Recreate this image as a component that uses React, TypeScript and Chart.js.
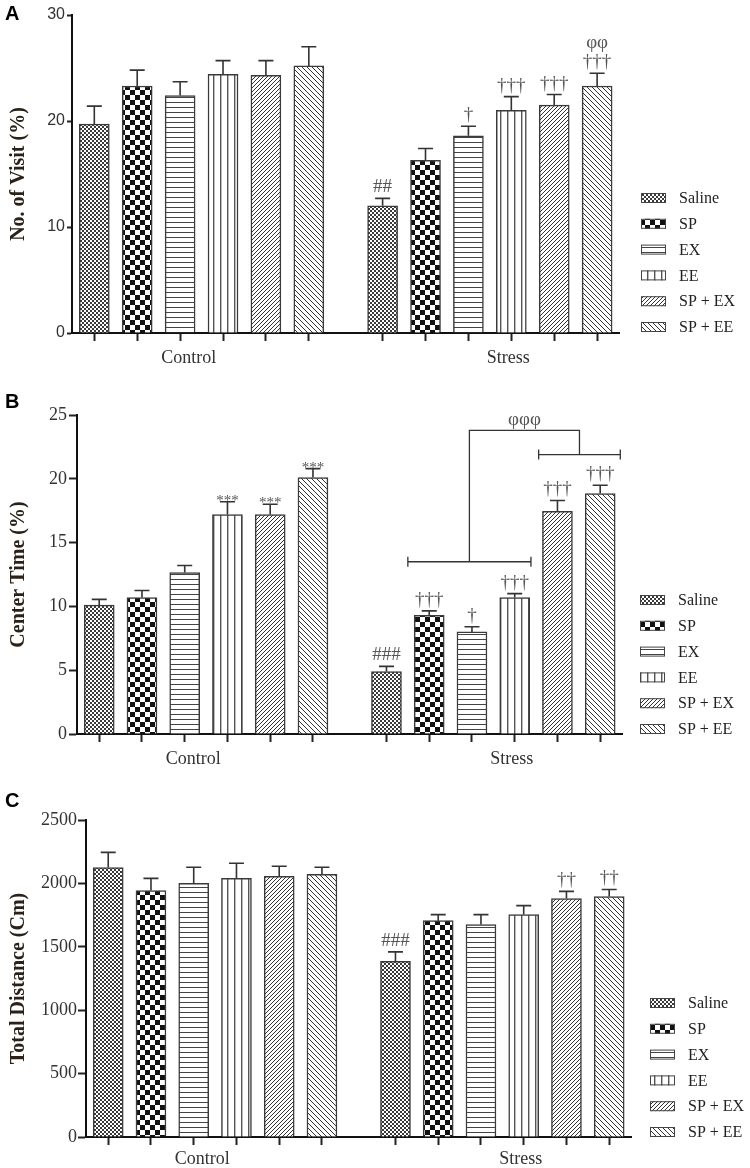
import React, { useEffect, useRef } from 'react';
import { Chart, registerables } from 'chart.js';
Chart.register(...registerables);

// ---------- data ----------
const treatments = ['Saline', 'SP', 'EX', 'EE', 'SP + EX', 'SP + EE'];
const groupLabels = ['Control', 'Stress'];
const groupLabelSlots = [2.2, 9.65];

const visitTicks = [0, 10, 20, 30];
const visitControl = [19.7, 23.3, 22.4, 24.4, 24.3, 25.2];
const visitControlErr = [1.7, 1.5, 1.3, 1.3, 1.4, 1.8];
const visitStress = [12.0, 16.3, 18.6, 21.0, 21.5, 23.3];
const visitStressErr = [0.7, 1.1, 0.9, 1.3, 1.0, 1.2];
const visitControlMarks = ['', '', '', '', '', ''];
const visitStressMarks = ['##', '', '†', '†††', '†††', '†††'];
const visitStressMarks2 = ['', '', '', '', '', 'φφ'];

const centerTicks = [0, 5, 10, 15, 20, 25];
const centerControl = [10.1, 10.7, 12.65, 17.2, 17.2, 20.1];
const centerControlErr = [0.45, 0.55, 0.55, 1.0, 0.8, 0.7];
const centerStress = [4.9, 9.3, 8.0, 10.7, 17.45, 18.85];
const centerStressErr = [0.4, 0.35, 0.4, 0.3, 0.85, 0.65];
const centerControlMarks = ['', '', '', '***', '***', '***'];
const centerStressMarks = ['###', '†††', '†', '†††', '†††', '†††'];
const centerBracketLow = [0.5, 3.38];
const centerBracketHigh = [3.56, 5.47];
const centerBracketLevels = [13.5, 21.9, 23.8];
const centerBracketMark = 'φφφ';

const distanceTicks = [0, 500, 1000, 1500, 2000, 2500];
const distanceControl = [2125, 1944, 2000, 2040, 2056, 2071];
const distanceControlErr = [120, 96, 127, 119, 79, 56];
const distanceStress = [1385, 1706, 1675, 1754, 1881, 1897];
const distanceStressErr = [75, 48, 79, 71, 56, 55];
const distanceControlMarks = ['', '', '', '', '', ''];
const distanceStressMarks = ['###', '', '', '', '††', '††'];

// ---------- layout ----------
const STRESS_OFFSET = 6.72;
const X_MIN = -0.52;
const X_MAX = 12.23;
const SERIF = "'Liberation Serif', 'Times New Roman', serif";
const SANS = "'Liberation Sans', Arial, sans-serif";

const patternKinds = ['fineCheck', 'check', 'hlines', 'vlines', 'diagUp', 'diagDown'];

function makePattern(target: CanvasRenderingContext2D, kind: string): CanvasPattern {
  const c = document.createElement('canvas');
  let w = 4, h = 4;
  if (kind === 'check') { w = 10; h = 10; }
  if (kind === 'hlines') { w = 5; h = 5; }
  if (kind === 'vlines') { w = 7; h = 7; }
  if (kind === 'diagUp') { w = 4; h = 4; }
  if (kind === 'diagDown') { w = 5; h = 5; }
  c.width = w; c.height = h;
  const g = c.getContext('2d')!;
  g.fillStyle = '#fff';
  g.fillRect(0, 0, w, h);
  if (kind === 'fineCheck') {
    g.fillStyle = '#3a3a3a';
    g.fillRect(0, 0, 2, 2); g.fillRect(2, 2, 2, 2);
  } else if (kind === 'check') {
    g.fillStyle = '#111';
    g.fillRect(0, 0, 5, 5); g.fillRect(5, 5, 5, 5);
  } else if (kind === 'hlines') {
    g.fillStyle = '#444';
    g.fillRect(0, 2, w, 1);
  } else if (kind === 'vlines') {
    g.fillStyle = '#555';
    g.fillRect(3, 0, 1.4, h);
  } else if (kind === 'diagUp') {
    g.strokeStyle = '#333'; g.lineWidth = 1;
    g.beginPath();
    g.moveTo(0, h); g.lineTo(w, 0);
    g.moveTo(-1, 1); g.lineTo(1, -1);
    g.moveTo(w - 1, h + 1); g.lineTo(w + 1, h - 1);
    g.stroke();
  } else if (kind === 'diagDown') {
    g.strokeStyle = '#333'; g.lineWidth = 1;
    g.beginPath();
    g.moveTo(0, 0); g.lineTo(w, h);
    g.moveTo(w - 1, -1); g.lineTo(w + 1, 1);
    g.moveTo(-1, h - 1); g.lineTo(1, h + 1);
    g.stroke();
  }
  return target.createPattern(c, 'repeat')!;
}

type Bracket = { low: number[]; high: number[]; levels: number[]; mark: string };

type PanelSpec = {
  top: number; height: number;
  letter: string; letterY: number;
  yTitle: string; yTicks: number[];
  tickFont: { family: string; size: number };
  yTickLength: number; yTickPadding: number;
  control: number[]; controlErr: number[];
  stress: number[]; stressErr: number[];
  controlMarks: string[]; stressMarks: string[]; stressMarks2?: string[];
  left: number; right: number; areaTop: number; xHeight: number; xLabelPadding: number;
  legendX: number; legendY: number;
  bracket?: Bracket;
};

function decorPlugin(p: PanelSpec, patterns: CanvasPattern[]) {
  return {
    id: 'decor' + p.letter,
    afterDatasetsDraw(chart: any) {
      const ctx: CanvasRenderingContext2D = chart.ctx;
      const ys = chart.scales.y;
      chart.data.datasets.forEach((_ds: any, d: number) => {
        const meta = chart.getDatasetMeta(d);
        meta.data.forEach((el: any, j: number) => {
          const val = j === 0 ? p.control[d] : p.stress[d];
          const err = j === 0 ? p.controlErr[d] : p.stressErr[d];
          const x = el.x;
          const yTop = el.y;
          const yCap = ys.getPixelForValue(val + err);
          ctx.save();
          ctx.strokeStyle = '#333';
          ctx.lineWidth = 1.6;
          ctx.beginPath();
          ctx.moveTo(x, yTop); ctx.lineTo(x, yCap);
          ctx.moveTo(x - 7.5, yCap); ctx.lineTo(x + 7.5, yCap);
          ctx.stroke();
          const marks = j === 0 ? p.controlMarks : p.stressMarks;
          const m = marks[d];
          ctx.fillStyle = '#555';
          ctx.textAlign = 'center';
          ctx.textBaseline = 'alphabetic';
          let base = yCap - 6;
          if (m) {
            if (m.includes('*')) {
              ctx.font = `15px ${SERIF}`;
              base = yCap + 3;
            } else {
              ctx.font = `19px ${SERIF}`;
            }
            ctx.fillText(m, x, base);
          }
          if (j === 1 && p.stressMarks2 && p.stressMarks2[d]) {
            ctx.font = `19px ${SERIF}`;
            ctx.fillText(p.stressMarks2[d], x, base - 19);
          }
          ctx.restore();
        });
      });
      if (p.bracket) {
        const b = p.bracket;
        const xs = chart.scales.x;
        const px = (s: number) => xs.getPixelForValue(STRESS_OFFSET + s);
        const yLow = ys.getPixelForValue(b.levels[0]);
        const yHigh = ys.getPixelForValue(b.levels[1]);
        const yTopL = ys.getPixelForValue(b.levels[2]);
        const lowMid = (px(b.low[0]) + px(b.low[1])) / 2;
        const highMid = (px(b.high[0]) + px(b.high[1])) / 2;
        ctx.save();
        ctx.strokeStyle = '#333';
        ctx.lineWidth = 1.3;
        ctx.beginPath();
        ctx.moveTo(px(b.low[0]), yLow); ctx.lineTo(px(b.low[1]), yLow);
        ctx.moveTo(px(b.low[0]), yLow - 5); ctx.lineTo(px(b.low[0]), yLow + 5);
        ctx.moveTo(px(b.low[1]), yLow - 5); ctx.lineTo(px(b.low[1]), yLow + 5);
        ctx.moveTo(px(b.high[0]), yHigh); ctx.lineTo(px(b.high[1]), yHigh);
        ctx.moveTo(px(b.high[0]), yHigh - 5); ctx.lineTo(px(b.high[0]), yHigh + 5);
        ctx.moveTo(px(b.high[1]), yHigh - 5); ctx.lineTo(px(b.high[1]), yHigh + 5);
        ctx.moveTo(lowMid, yLow); ctx.lineTo(lowMid, yTopL); ctx.lineTo(highMid, yTopL); ctx.lineTo(highMid, yHigh);
        ctx.stroke();
        ctx.fillStyle = '#555';
        ctx.font = `19px ${SERIF}`;
        ctx.textAlign = 'center';
        ctx.textBaseline = 'alphabetic';
        ctx.fillText(b.mark, (lowMid + highMid) / 2, yTopL - 5);
        ctx.restore();
      }
    },
    afterDraw(chart: any) {
      const ctx: CanvasRenderingContext2D = chart.ctx;
      ctx.save();
      // panel letter
      ctx.fillStyle = '#000';
      ctx.font = `bold 20px ${SANS}`;
      ctx.textAlign = 'left';
      ctx.textBaseline = 'alphabetic';
      ctx.fillText(p.letter, 5, p.letterY);
      // legend
      ctx.font = `16px ${SERIF}`;
      ctx.textBaseline = 'middle';
      treatments.forEach((t, i) => {
        const cy = p.legendY + i * 25.8;
        ctx.fillStyle = patterns[i];
        ctx.fillRect(p.legendX, cy - 5, 25, 10);
        ctx.strokeStyle = '#444';
        ctx.lineWidth = 1;
        ctx.strokeRect(p.legendX + 0.5, cy - 5 + 0.5, 24, 9);
        ctx.fillStyle = '#222';
        ctx.fillText(t, p.legendX + 38, cy + 1);
      });
      ctx.restore();
    },
  };
}

function Panel({ spec }: { spec: PanelSpec }) {
  const ref = useRef<HTMLCanvasElement>(null);
  useEffect(() => {
    const canvas = ref.current!;
    const ctx = canvas.getContext('2d')!;
    const patterns = patternKinds.map((k) => makePattern(ctx, k));
    const barTicks: number[] = [];
    groupLabels.forEach((_g, gi) => treatments.forEach((_t, i) => barTicks.push(gi * STRESS_OFFSET + i)));
    const xTickValues = [...barTicks, ...groupLabelSlots];
    const nBar = barTicks.length;
    const chart = new Chart(ctx, {
      type: 'bar',
      data: {
        datasets: treatments.map((t, i) => ({
          label: t,
          data: [
            { x: i, y: spec.control[i] },
            { x: STRESS_OFFSET + i, y: spec.stress[i] },
          ],
          backgroundColor: patterns[i],
          borderColor: '#3a3a3a',
          borderWidth: 1.5,
          barThickness: 30,
          grouped: false,
        })),
      } as any,
      options: {
        responsive: false,
        animation: false,
        devicePixelRatio: 1,
        layout: {
          padding: { left: 0, right: 750 - spec.right, top: spec.areaTop, bottom: 0 },
        },
        plugins: {
          legend: { display: false },
          tooltip: { enabled: false },
        },
        scales: {
          x: {
            type: 'linear',
            min: X_MIN,
            max: X_MAX,
            offset: false,
            grid: {
              display: true,
              offset: false,
              drawOnChartArea: false,
              drawTicks: true,
              tickLength: 8,
              tickWidth: 2,
              tickColor: (c: any) => (c.index < nBar ? '#222' : 'rgba(0,0,0,0)'),
            },
            border: { display: true, color: '#111', width: 2 },
            ticks: {
              autoSkip: false,
              maxRotation: 0,
              padding: spec.xLabelPadding,
              color: '#333',
              font: { family: SERIF, size: 18 },
              callback: (_v: any, i: number) => (i >= nBar ? groupLabels[i - nBar] : ''),
            },
            afterBuildTicks: (s: any) => {
              s.ticks = xTickValues.map((v) => ({ value: v }));
            },
            afterFit: (s: any) => {
              s.height = spec.xHeight;
            },
          },
          y: {
            min: 0,
            max: spec.yTicks[spec.yTicks.length - 1],
            grid: {
              drawOnChartArea: false,
              drawTicks: true,
              tickLength: spec.yTickLength,
              tickWidth: 2,
              tickColor: '#222',
            },
            border: { display: true, color: '#111', width: 2 },
            ticks: {
              padding: spec.yTickPadding,
              color: '#333',
              font: spec.tickFont,
              callback: (v: any) => String(v),
            },
            afterBuildTicks: (s: any) => {
              s.ticks = spec.yTicks.map((v) => ({ value: v }));
            },
            title: {
              display: true,
              text: spec.yTitle,
              color: '#2b2118',
              font: { family: SERIF, size: 20, weight: 'bold' },
              padding: { top: 7, bottom: 0 },
            },
            afterFit: (s: any) => {
              s.width = spec.left;
            },
          },
        },
      } as any,
      plugins: [decorPlugin(spec, patterns)],
    });
    return () => chart.destroy();
  }, [spec]);
  return (
    <div style={{ position: 'absolute', left: 0, top: spec.top, width: 750, height: spec.height }}>
      <canvas ref={ref} width={750} height={spec.height} style={{ width: 750, height: spec.height, display: 'block' }} />
    </div>
  );
}

const panels: PanelSpec[] = [
  {
    top: 0, height: 372, letter: 'A', letterY: 20,
    yTitle: 'No. of Visit (%)', yTicks: visitTicks,
    tickFont: { family: SANS, size: 16 }, yTickLength: 5, yTickPadding: 2,
    control: visitControl, controlErr: visitControlErr,
    stress: visitStress, stressErr: visitStressErr,
    controlMarks: visitControlMarks, stressMarks: visitStressMarks, stressMarks2: visitStressMarks2,
    left: 72, right: 619, areaTop: 15, xHeight: 39, xLabelPadding: 6,
    legendX: 641, legendY: 198,
  },
  {
    top: 372, height: 403, letter: 'B', letterY: 36,
    yTitle: 'Center Time (%)', yTicks: centerTicks,
    tickFont: { family: SERIF, size: 18 }, yTickLength: 8, yTickPadding: 2,
    control: centerControl, controlErr: centerControlErr,
    stress: centerStress, stressErr: centerStressErr,
    controlMarks: centerControlMarks, stressMarks: centerStressMarks,
    left: 77, right: 622, areaTop: 43, xHeight: 41, xLabelPadding: 6,
    legendX: 640, legendY: 228,
    bracket: { low: centerBracketLow, high: centerBracketHigh, levels: centerBracketLevels, mark: centerBracketMark },
  },
  {
    top: 775, height: 393, letter: 'C', letterY: 32,
    yTitle: 'Total Distance (Cm)', yTicks: distanceTicks,
    tickFont: { family: SERIF, size: 18 }, yTickLength: 8, yTickPadding: 1,
    control: distanceControl, controlErr: distanceControlErr,
    stress: distanceStress, stressErr: distanceStressErr,
    controlMarks: distanceControlMarks, stressMarks: distanceStressMarks,
    left: 86, right: 631, areaTop: 45, xHeight: 31, xLabelPadding: 3,
    legendX: 650, legendY: 228,
  },
];

export default function App() {
  return (
    <div style={{ position: 'absolute', left: 0, top: 0, width: 750, height: 1168, background: '#fff' }}>
      {panels.map((p) => (
        <Panel key={p.letter} spec={p} />
      ))}
    </div>
  );
}
